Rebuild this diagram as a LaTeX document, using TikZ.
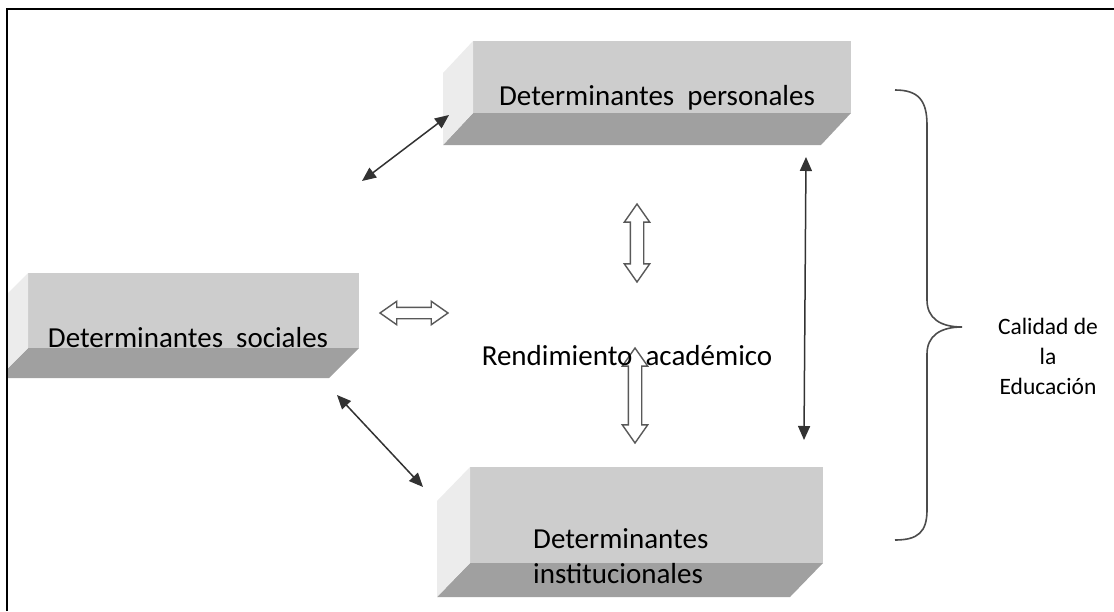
\documentclass[tikz,border=0pt]{standalone}
\usepackage{fontspec}
\setmainfont{Carlito}
\usetikzlibrary{arrows.meta,shapes.arrows}
\definecolor{caraFrente}{RGB}{205,205,205}
\definecolor{caraBajo}{RGB}{160,160,160}
\definecolor{caraLado}{RGB}{236,236,236}
\definecolor{trazo}{RGB}{50,50,50}

\begin{document}
\begin{tikzpicture}[x=1pt,y=-1pt,
  frente/.style={fill=caraFrente, inner sep=0pt, outer sep=0pt},
  texto/.style={font=\fontsize{29}{35}\selectfont, inner sep=0pt},
  hueca/.style={shape=double arrow, draw=black!65, fill=white, line width=1.4pt, inner xsep=0pt, double arrow tip angle=70},
  fina/.style={{Triangle[length=14pt,width=12pt]}-{Triangle[length=14pt,width=12pt]}, line width=1.5pt, trazo}]
\useasboundingbox (0,0) rectangle (1114,611);
% caja personales
\node[frente, minimum width=378pt, minimum height=72pt] (pers) at (662,77) {};
\fill[caraBajo] (pers.south west) -- (pers.south east) -- ++(-30,32) -- ++(-378,0) -- cycle;
\fill[caraLado] (pers.north west) -- (pers.south west) -- ++(-30,32) -- ++(0,-72) -- cycle;
% caja sociales
\begin{scope}
\clip (8,0) rectangle (1114,611);
\node[frente, minimum width=331pt, minimum height=75pt] (soc) at (193.5,310.5) {};
\fill[caraBajo] (soc.south west) -- (soc.south east) -- ++(-30,30) -- ++(-331,0) -- cycle;
\fill[caraLado] (soc.north west) -- (soc.south west) -- ++(-30,30) -- ++(0,-75) -- cycle;
\end{scope}
% caja institucionales
\node[frente, minimum width=353pt, minimum height=96pt] (inst) at (646.5,515) {};
\fill[caraBajo] (inst.south west) -- (inst.south east) -- ++(-33,34) -- ++(-353,0) -- cycle;
\fill[caraLado] (inst.north west) -- (inst.south west) -- ++(-33,34) -- ++(0,-96) -- cycle;
% flechas huecas
\node[hueca, rotate=90, minimum height=78pt, inner ysep=6pt, double arrow head extend=6pt] (hArriba) at (637,243) {};
\node[hueca, rotate=90, minimum height=95pt, inner ysep=6pt, double arrow head extend=6pt] (hAbajo) at (635,395.5) {};
\node[hueca, minimum height=68pt, inner ysep=5pt, double arrow head extend=6pt] (hIzq) at (414,313) {};
% textos
\node[texto, anchor=base] (tPers) at (657,105) {Determinantes~ personales};
\node[texto, anchor=base] (tSoc) at (188,347) {Determinantes~ sociales};
\node[texto, anchor=west, align=left] (tInst) at (533,556) {Determinantes\\institucionales};
\node[texto, anchor=base] (tRend) at (627,365) {Rendimiento~ académico};
\node[font=\fontsize{23.5}{30}\selectfont, inner sep=0pt, align=center] (tCal) at (1048,356.5) {Calidad de\\la\\Educación};
% flechas finas
\coordinate (f1a) at (362,181);
\coordinate (f1b) at (449,115);
\coordinate (f2a) at (337,395);
\coordinate (f2b) at (423,487);
\coordinate (f3a) at (806,157);
\coordinate (f3b) at (804,440);
\draw[fina] (f1a) -- (f1b);
\draw[fina] (f2a) -- (f2b);
\draw[fina] (f3a) -- (f3b);
% llave
\draw[line width=1.6pt, black!70] (895,90) .. controls (918,90) and (927,100) .. (927,125) -- (927,300)
  .. controls (927,318) and (940,327) .. (962,327) .. controls (940,327) and (927,336) .. (927,354)
  -- (927,510) .. controls (927,532) and (918,540) .. (895,540);
% marco
\draw[line width=2.2pt] (7,611) -- (7,9) -- (1114,9);
\end{tikzpicture}
\end{document}
